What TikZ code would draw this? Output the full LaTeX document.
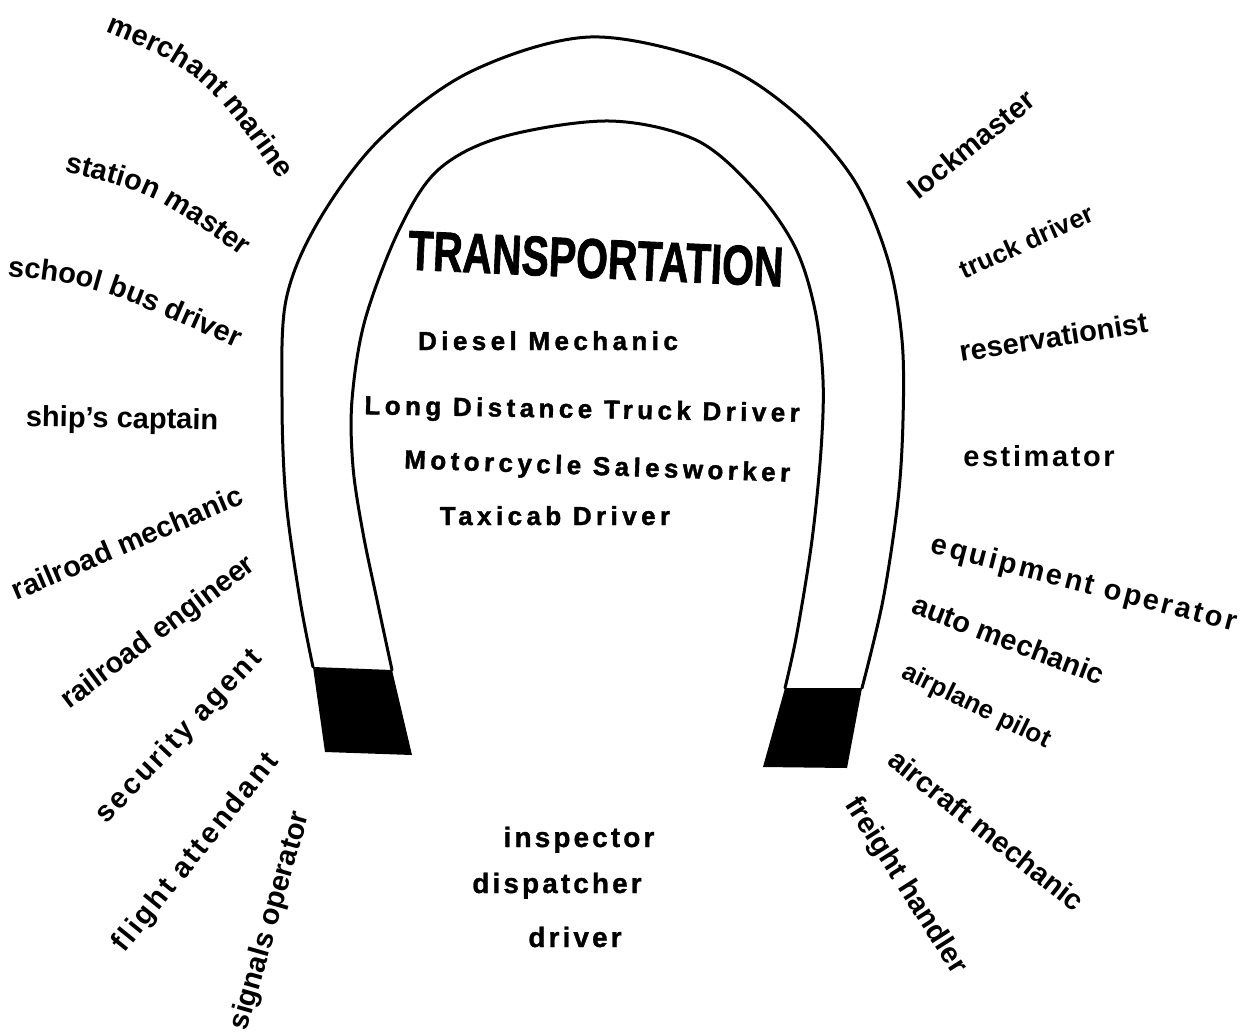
\documentclass[tikz,border=0pt]{standalone}
\usepackage{fontspec}
\setmainfont{Liberation Sans}
\usepackage{graphicx}
\usetikzlibrary{decorations.text}
\newcommand\labfont{\fontsize{14.5}{16}\selectfont\bfseries}
\tikzset{
  lab/.style={font=\labfont, inner sep=0pt, anchor=base},
  labw/.style={font=\labfont\addfontfeature{LetterSpace=9}, inner sep=0pt, anchor=base},
  job/.style={font=\fontsize{13}{15}\selectfont\bfseries\addfontfeature{LetterSpace=17,FakeBold=1.5}, inner sep=0pt, anchor=base},
  low/.style={font=\fontsize{14}{16}\selectfont\bfseries\addfontfeature{LetterSpace=11,FakeBold=1}, inner sep=0pt, anchor=base},
  curved/.style={decorate, decoration={text along path, text align=center, text={|\labfont|#1}}},
  mag/.style={line width=1.5pt, line join=round, line cap=round},
}
\begin{document}
\begin{tikzpicture}[x=0.5pt,y=-0.5pt]
\useasboundingbox[fill=white] (0,0) rectangle (1251,1033);
% magnet
\draw[mag] plot[smooth, tension=0.55] coordinates {(313,667) (300,600) (286,500) (282,400) (286,300) (318,222) (379,140) (470,72) (590,37) (716,63) (795,113) (854,180) (888,260) (902,340) (903,420) (898,500) (883,600) (862,688)};
\draw[mag] plot[smooth, tension=0.55] coordinates {(392,670) (377,600) (363,533) (353,467) (352,400) (365,320) (399,230) (438,170) (502,137) (609,121) (696,140) (755,190) (795,247) (815,310) (823,380) (821,450) (812,540) (797,633) (785,688)};
\fill (313,667) -- (392,670) -- (412,755) -- (325,752) -- cycle;
\fill (785,688) -- (862,688) -- (847,768) -- (763,767) -- cycle;
% title and centre
\node[inner sep=0pt, anchor=base, rotate=-2.6] (title) at (595,278)
  {\fontsize{28}{30}\selectfont\bfseries\addfontfeature{FakeBold=1.5}\scalebox{0.73}[1]{TRANSPORTATION}};
\node[job] (diesel) at (548,350) {Diesel Mechanic};
\node[job, rotate=-1] (ldtd) at (582,418) {Long Distance Truck Driver};
\node[job, rotate=-2] (moto) at (597,475) {Motorcycle Salesworker};
\node[job] (taxi) at (555,525) {Taxicab Driver};
\node[low] (insp) at (579,847) {inspector};
\node[low] (disp) at (557,893) {dispatcher};
\node[low] (drv) at (575,947) {driver};
% left labels
\coordinate (mmS) at (82,22);
\coordinate (mmE) at (294,201);
\path[curved={merchant marine}] (mmS) .. controls (203,71) .. (mmE);
\coordinate (smS) at (51,168);
\coordinate (smE) at (253,265);
\path[curved={station master}] (smS) .. controls (154,193) .. (smE);
\coordinate (sbS) at (-5,275);
\coordinate (sbE) at (248,353);
\path[curved={school bus driver}] (sbS) .. controls (96,285) .. (sbE);
\node[lab, rotate=-1] (ship) at (122,428) {ship's captain};
\node[lab, rotate=23] (rrmech) at (131,552) {railroad mechanic};
\node[lab, rotate=37] (rreng) at (163,639) {railroad engineer};
\node[labw, rotate=46.5] (secur) at (185,742) {security agent};
\node[labw, rotate=51] (flight) at (202,858) {flight attendant};
\node[lab, rotate=74] (signals) at (278,923) {signals operator};
% right labels
\node[lab, rotate=39] (lock) at (978,152) {lockmaster};
\node[lab, rotate=24, scale=0.9] (truck) at (1030,250) {truck driver};
\node[lab, rotate=9] (reserv) at (1055,347) {reservationist};
\node[labw] (estim) at (1039,466) {estimator};
\node[labw, rotate=-14.5] (equip) at (1082,592) {equipment operator};
\node[lab, rotate=-21] (auto) at (1005,649) {auto mechanic};
\node[lab, rotate=-26, scale=0.9] (pilot) at (973,713) {airplane pilot};
\node[lab, rotate=-38.5] (aircraft) at (980,838) {aircraft mechanic};
\node[lab, rotate=-57.5] (freight) at (899,890) {freight handler};
\end{tikzpicture}
\end{document}
